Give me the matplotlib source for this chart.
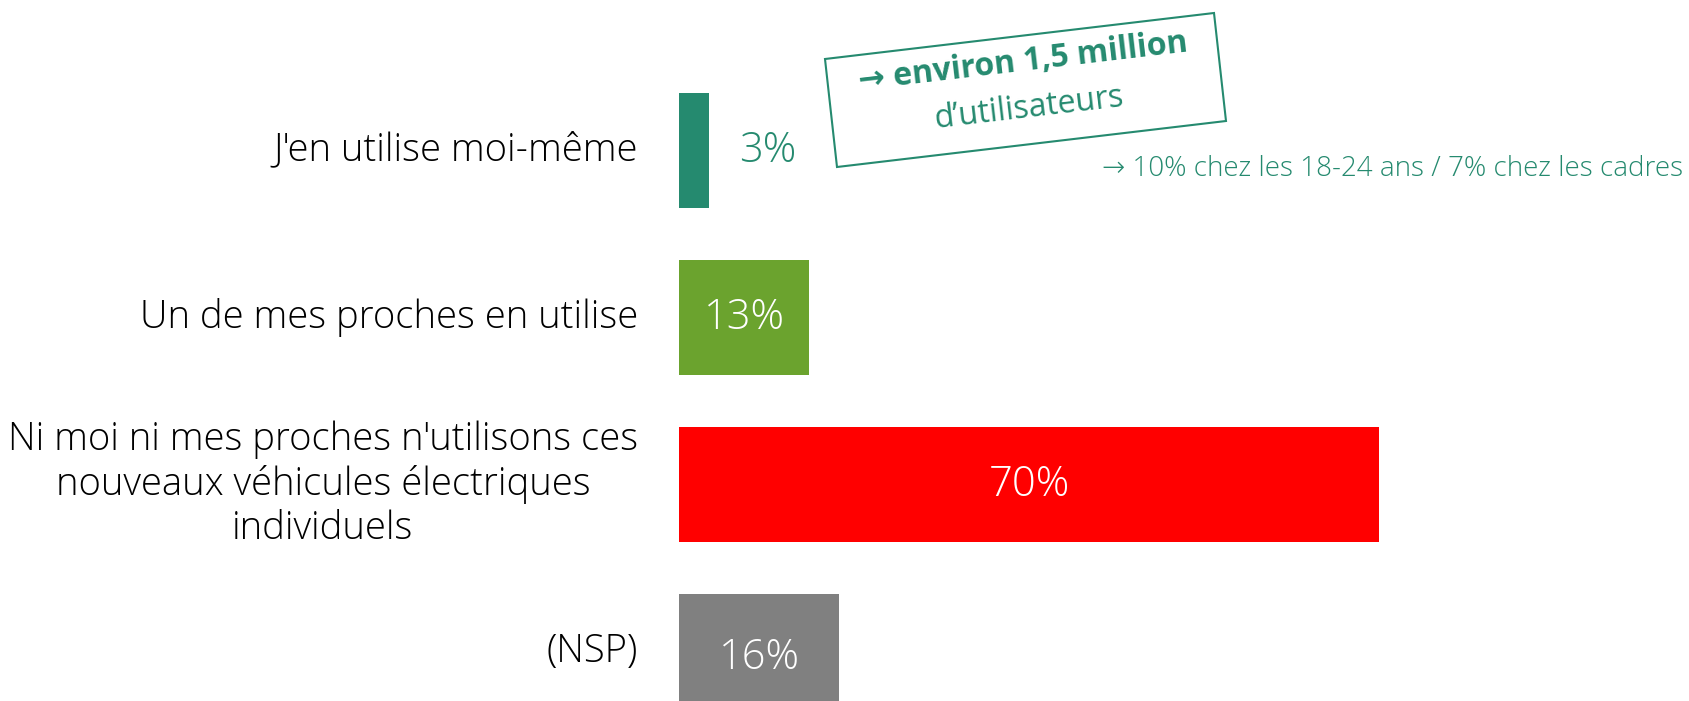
import matplotlib
matplotlib.use("Agg")
import matplotlib.pyplot as plt
from matplotlib.patches import Polygon
import numpy as np

categories = ["J'en utilise moi-même",
              "Un de mes proches en utilise",
              "Ni moi ni mes proches n'utilisons ces\nnouveaux véhicules électriques\nindividuels",
              "(NSP)"]
values = [3, 13, 70, 16]
value_labels = ["3%", "13%", "70%", "16%"]
colors = ["#258A6F", "#6BA32E", "#FF0000", "#808080"]
label_colors = ["#258A6F", "white", "white", "white"]

TEAL = "#258A6F"
FONT = ["Open Sans", "DejaVu Sans"]

W, H = 1689, 701
fig = plt.figure(figsize=(W / 100, H / 100), dpi=100)
ax = fig.add_axes([679 / W, 0, 1 - 679 / W, 1])

y = np.arange(len(categories))
ax.barh(y, values, height=0.69, color=colors)
ax.set_xlim(0, (W - 679) / 10)
ax.set_ylim((H - 150.5) / 167, -150.5 / 167)
ax.axis("off")

for i, (v, lab, c) in enumerate(zip(values, value_labels, label_colors)):
    if v < 5:
        ax.text(v + 5.9, i, lab, ha="center", va="center", color=c,
                fontsize=30, family=FONT, fontweight="light")
    else:
        ax.text(v / 2, i + (0.04 if i == 3 else 0), lab, ha="center", va="center", color=c,
                fontsize=30, family=FONT, fontweight="light")

for i, cat in enumerate(categories):
    ax.text(-4.1, i, cat, ha="right", va="center", multialignment="center",
            fontsize=27.5, family=FONT, fontweight="light", color="black",
            linespacing=1.2)

# annotation box (rotated)
pts = np.array([[825, 59], [1214, 13], [1226, 121], [837, 167]], dtype=float)
pts[:, 0] /= W
pts[:, 1] = 1 - pts[:, 1] / H
fig.patches.append(Polygon(pts, closed=True, fill=False, edgecolor=TEAL, linewidth=1.5,
                           transform=fig.transFigure))
fig.text(1023 / W, 1 - 62 / H, "→ environ 1,5 million", ha="center", va="center",
         rotation=6.7, color=TEAL, fontsize=23, fontweight="bold", family=FONT)
fig.text(1029 / W, 1 - 108 / H, "d’utilisateurs", ha="center", va="center",
         rotation=6.7, color=TEAL, fontsize=23, family=FONT)
fig.text(1683 / W, 1 - 169 / H, "→ 10% chez les 18-24 ans / 7% chez les cadres",
         ha="right", va="center", color=TEAL, fontsize=20, family=FONT, fontweight="light")

fig.savefig("out.png", dpi=100)
